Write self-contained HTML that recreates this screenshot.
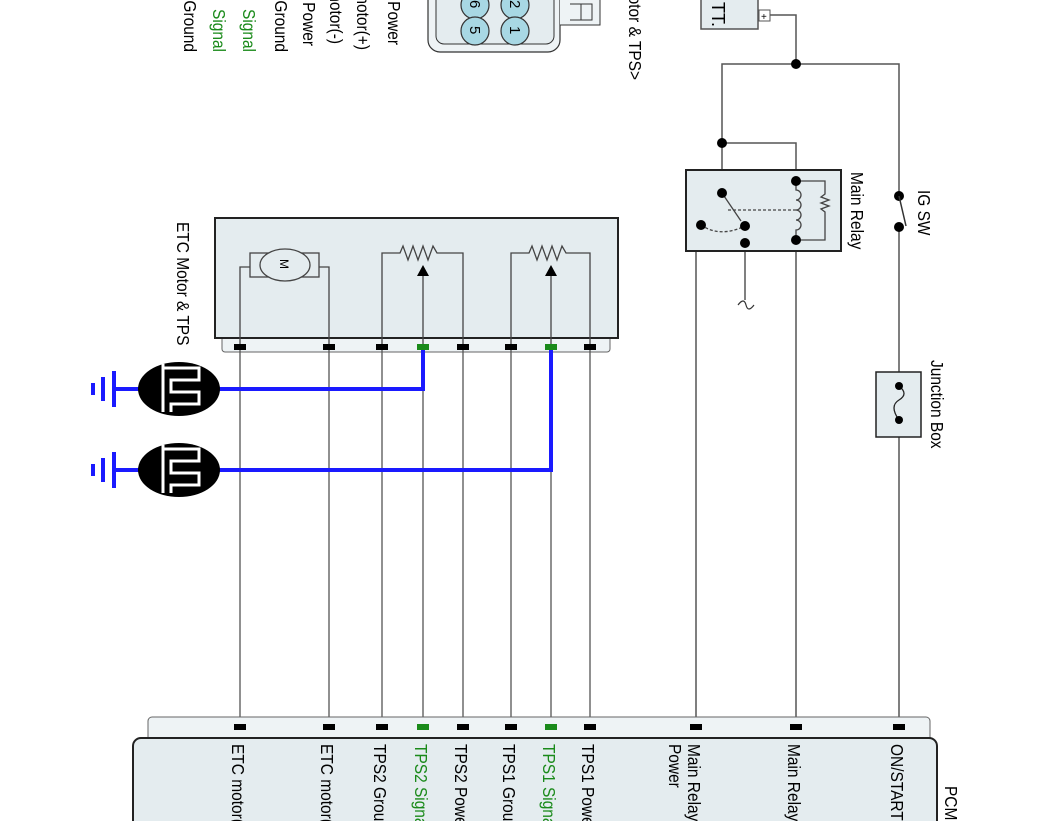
<!DOCTYPE html>
<html><head><meta charset="utf-8"><style>
html,body{margin:0;padding:0;background:#fff;}
svg{display:block;}
text{font-family:"Liberation Sans",sans-serif;}
</style></head><body>
<svg width="1062" height="821" viewBox="0 0 1062 821" xmlns="http://www.w3.org/2000/svg">
<defs>
<g id="ldr">
<ellipse cx="0" cy="0" rx="41" ry="27" fill="#000"/>
<path d="M-16,-25 V23 M-16,-21 H20 V-9 H-8 V3 H20 V15 H-8 V23" fill="none" stroke="#fff" stroke-width="3"/>
</g>
<g id="gnd" fill="#1a1aff">
<rect x="-3" y="-18" width="4" height="36"/>
<rect x="-14" y="-12" width="4" height="24"/>
<rect x="-24" y="-6" width="4" height="12"/>
</g>
</defs>

<g font-size="18" text-anchor="end">
<text transform="translate(184,52) rotate(90) scale(0.86,1)" fill="#000">Ground</text>
<text transform="translate(213,52) rotate(90) scale(0.86,1)" fill="#1a8a1a">Signal</text>
<text transform="translate(243,52) rotate(90) scale(0.86,1)" fill="#1a8a1a">Signal</text>
<text transform="translate(275,52) rotate(90) scale(0.86,1)" fill="#000">Ground</text>
<text transform="translate(303,46) rotate(90) scale(0.86,1)" fill="#000">Power</text>
<text transform="translate(330,44) rotate(90) scale(0.86,1)" fill="#000">motor(-)</text>
<text transform="translate(357,50) rotate(90) scale(0.86,1)" fill="#000">motor(+)</text>
<text transform="translate(388,45) rotate(90) scale(0.86,1)" fill="#000">Power</text>
<text transform="translate(629,80) rotate(90) scale(0.86,1)" fill="#000">&lt;ETC Motor &amp; TPS&gt;</text>
</g>

<rect x="428" y="-20" width="132" height="72" rx="12" fill="#eef3f5" stroke="#333" stroke-width="1.2"/>
<rect x="436" y="-20" width="118" height="64" rx="8" fill="#e4ecef" stroke="#333" stroke-width="1"/>
<path d="M560,-2 H600 V25 H560" fill="#eef3f5" stroke="#333" stroke-width="1"/>
<path d="M570,4 H592 V20 H570 M581,4 V20" fill="none" stroke="#333" stroke-width="1"/>
<g fill="#a8d8e4" stroke="#333" stroke-width="1.2">
<circle cx="475" cy="5" r="14"/><circle cx="515" cy="5" r="14"/>
<circle cx="475" cy="31" r="14"/><circle cx="515" cy="31" r="14"/>
</g>
<g font-size="15" fill="#000">
<text transform="translate(470,0) rotate(90)">6</text>
<text transform="translate(510,0) rotate(90)">2</text>
<text transform="translate(470,26) rotate(90)">5</text>
<text transform="translate(510,26) rotate(90)">1</text>
</g>

<rect x="701" y="-10" width="57" height="39" fill="#e4ecef" stroke="#555" stroke-width="1.5"/>
<text transform="translate(712,2) rotate(90)" font-size="18">TT.</text>
<rect x="759" y="10" width="11" height="11" fill="#fff" stroke="#555"/>
<text x="761" y="20" font-size="10">+</text>
<g fill="none" stroke="#555" stroke-width="1.5">
<path d="M770,15 H796 V64"/>
<path d="M722,193 V64 H899 V196"/>
<path d="M722,143 H796 V181"/>
<path d="M899,227 V821"/>
<path d="M796,240 V727"/>
<path d="M745,243 H696 V727"/>
<path d="M745,226 V300"/>
</g>
<path d="M738,305 q6,-8 8,0 q2,8 8,0" fill="none" stroke="#333" stroke-width="1.2"/>
<circle cx="796" cy="64" r="5"/>
<circle cx="722" cy="143" r="5"/>
<circle cx="899" cy="196" r="5"/><circle cx="899" cy="227" r="5"/>
<path d="M899,196 L906,226" stroke="#333" stroke-width="1.5"/>
<text transform="translate(918,190) rotate(90) scale(0.86,1)" font-size="18">IG SW</text>

<rect x="686" y="170" width="155" height="81" fill="#e4ecef" stroke="#222" stroke-width="2"/>
<g fill="none" stroke="#444" stroke-width="1.3">
<path d="M722,193 L741,221"/>
<path d="M728,210 H796" stroke-dasharray="3,2"/>
<path d="M701,225 Q720,238 745,226" stroke-dasharray="3,2"/>
<path d="M796,181 H825 V194 l-4,3 l8,3 l-8,3 l8,3 l-8,3 l4,3 V240 H796"/>
<path d="M796,181 V190 a5,5 0 0 1 0,10 a5,5 0 0 1 0,10 a5,5 0 0 1 0,10 a5,5 0 0 1 0,10 V240"/>
</g>
<g>
<circle cx="722" cy="193" r="5"/><circle cx="745" cy="226" r="5"/><circle cx="745" cy="243" r="5"/>
<circle cx="701" cy="225" r="5"/><circle cx="796" cy="181" r="5"/><circle cx="796" cy="240" r="5"/>
</g>
<text transform="translate(851,172) rotate(90) scale(0.86,1)" font-size="18">Main Relay</text>

<rect x="876" y="372" width="45" height="65" fill="#e4ecef" stroke="#222" stroke-width="1.5"/>
<path d="M899,386 q10,8 0,14 q-10,6 0,20" fill="none" stroke="#222" stroke-width="1.3"/>
<circle cx="899" cy="386" r="4"/><circle cx="899" cy="420" r="4"/>
<text transform="translate(931,360) rotate(90) scale(0.86,1)" font-size="18">Junction Box</text>

<rect x="222" y="336" width="388" height="16" rx="3" fill="#eef3f5" stroke="#666" stroke-width="1"/>
<rect x="215" y="218" width="403" height="120" fill="#e4ecef" stroke="#222" stroke-width="2"/>
<text transform="translate(177,222) rotate(90) scale(0.86,1)" font-size="18">ETC Motor &amp; TPS</text>
<g fill="none" stroke="#444" stroke-width="1.3">
<path d="M240,347 V267 H250 M329,347 V267 H319"/>
<rect x="250" y="253" width="69" height="24"/>
<path d="M382,347 V253 H400 l3,-7 l5,14 l5,-14 l5,14 l5,-14 l5,14 l5,-14 l4,7 H463 V347"/>
<path d="M423,347 V272"/>
<path d="M511,347 V253 H529 l3,-7 l5,14 l5,-14 l5,14 l5,-14 l5,14 l5,-14 l4,7 H590 V347"/>
<path d="M551,347 V272"/>
</g>
<ellipse cx="285" cy="265" rx="25" ry="16" fill="#e4ecef" stroke="#444" stroke-width="1.3"/>
<text transform="translate(280,259) rotate(90)" font-size="12">M</text>
<path d="M417,276 L423,265 L429,276 Z M545,276 L551,265 L557,276 Z"/>

<g stroke="#555" stroke-width="1.3">
<path d="M240,347 V727 M329,347 V727 M382,347 V727 M423,347 V727 M463,347 V727 M511,347 V727 M551,347 V727 M590,347 V727"/>
</g>

<g fill="none" stroke="#1a1aff" stroke-width="4">
<path d="M423,347 V389 H215"/>
<path d="M551,347 V470 H215"/>
<path d="M113,389 H140 M113,470 H140"/>
</g>
<use href="#ldr" x="179" y="389"/>
<use href="#ldr" x="179" y="470"/>
<use href="#gnd" x="115" y="389"/>
<use href="#gnd" x="115" y="470"/>

<g>
<rect x="234" y="344" width="12" height="6"/><rect x="323" y="344" width="12" height="6"/>
<rect x="376" y="344" width="12" height="6"/><rect x="417" y="344" width="12" height="6" fill="#1a8a1a"/>
<rect x="457" y="344" width="12" height="6"/><rect x="505" y="344" width="12" height="6"/>
<rect x="545" y="344" width="12" height="6" fill="#1a8a1a"/><rect x="584" y="344" width="12" height="6"/>
</g>

<rect x="148" y="717" width="782" height="40" rx="4" fill="#eef3f5" stroke="#666" stroke-width="1"/>
<rect x="133" y="738" width="804" height="120" rx="8" fill="#e4ecef" stroke="#222" stroke-width="2"/>
<g>
<rect x="234" y="724" width="12" height="6"/><rect x="323" y="724" width="12" height="6"/>
<rect x="376" y="724" width="12" height="6"/><rect x="417" y="724" width="12" height="6" fill="#1a8a1a"/>
<rect x="457" y="724" width="12" height="6"/><rect x="505" y="724" width="12" height="6"/>
<rect x="545" y="724" width="12" height="6" fill="#1a8a1a"/><rect x="584" y="724" width="12" height="6"/>
<rect x="690" y="724" width="12" height="6"/><rect x="790" y="724" width="12" height="6"/>
<rect x="893" y="724" width="12" height="6"/>
</g>
<g font-size="18">
<text transform="translate(232,744) rotate(90) scale(0.86,1)">ETC motor(-)</text>
<text transform="translate(321,744) rotate(90) scale(0.86,1)">ETC motor(+)</text>
<text transform="translate(374,744) rotate(90) scale(0.86,1)">TPS2 Ground</text>
<text transform="translate(415,744) rotate(90) scale(0.86,1)" fill="#1a8a1a">TPS2 Signal</text>
<text transform="translate(455,744) rotate(90) scale(0.86,1)">TPS2 Power</text>
<text transform="translate(503,744) rotate(90) scale(0.86,1)">TPS1 Ground</text>
<text transform="translate(543,744) rotate(90) scale(0.86,1)" fill="#1a8a1a">TPS1 Signal</text>
<text transform="translate(582,744) rotate(90) scale(0.86,1)">TPS1 Power</text>
<text transform="translate(688,744) rotate(90) scale(0.86,1)">Main Relay</text>
<text transform="translate(669,744) rotate(90) scale(0.86,1)">Power</text>
<text transform="translate(788,744) rotate(90) scale(0.86,1)">Main Relay</text>
<text transform="translate(891,744) rotate(90) scale(0.86,1)">ON/START</text>
<text transform="translate(945,786) rotate(90) scale(0.86,1)">PCM</text>
</g>
</svg>
</body></html>
